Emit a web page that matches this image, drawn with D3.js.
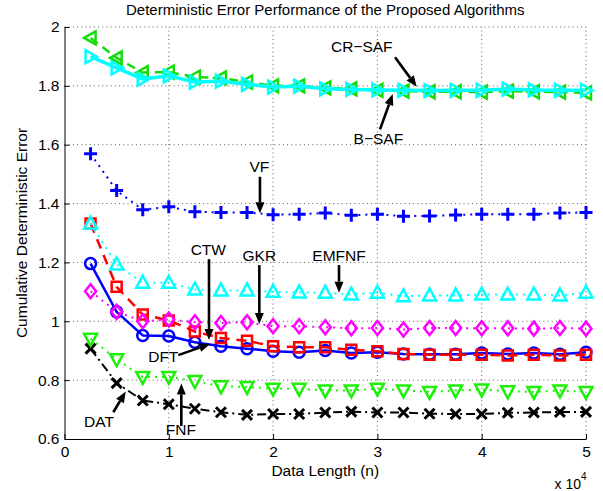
<!DOCTYPE html>
<html><head><meta charset="utf-8">
<script src="https://cdn.jsdelivr.net/npm/d3@7"></script>
<style>body{margin:0;background:#fff} text{font-family:"Liberation Sans",Arial,Helvetica,sans-serif}</style>
</head><body><svg id="c" width="603" height="491"></svg>
<script>
// ---------------- data ----------------
const dataLength = [2500,5000,7500,10000,12500,15000,17500,20000,22500,25000,27500,30000,32500,35000,37500,40000,42500,45000,47500,50000];
const crSaf = [1.963,1.895,1.845,1.847,1.830,1.827,1.813,1.800,1.800,1.793,1.790,1.785,1.782,1.780,1.780,1.779,1.782,1.780,1.779,1.776];
const bSaf  = [1.899,1.861,1.823,1.834,1.813,1.816,1.805,1.796,1.799,1.790,1.788,1.786,1.785,1.784,1.785,1.785,1.789,1.786,1.785,1.785];
const vf    = [1.569,1.444,1.379,1.389,1.372,1.370,1.370,1.362,1.364,1.368,1.360,1.364,1.357,1.358,1.361,1.364,1.364,1.364,1.368,1.370];
const emfnf = [1.332,1.193,1.131,1.131,1.108,1.105,1.105,1.100,1.098,1.097,1.091,1.097,1.085,1.088,1.088,1.091,1.091,1.091,1.088,1.097];
const gkr   = [1.102,1.032,1.000,1.006,0.997,0.994,0.997,0.983,0.983,0.980,0.976,0.977,0.972,0.977,0.977,0.976,0.976,0.975,0.977,0.975];
const ctw   = [1.332,1.117,1.023,1.003,0.965,0.943,0.934,0.915,0.912,0.912,0.903,0.898,0.889,0.886,0.886,0.886,0.884,0.886,0.884,0.886];
const dft   = [1.196,1.032,0.952,0.950,0.929,0.915,0.907,0.898,0.895,0.901,0.892,0.895,0.889,0.888,0.888,0.892,0.889,0.892,0.888,0.895];
const fnf   = [0.941,0.871,0.811,0.811,0.797,0.779,0.777,0.771,0.771,0.765,0.765,0.771,0.765,0.760,0.765,0.768,0.762,0.760,0.765,0.760];
const dat   = [0.907,0.790,0.731,0.718,0.703,0.691,0.682,0.685,0.685,0.690,0.693,0.690,0.690,0.686,0.685,0.685,0.689,0.690,0.692,0.692];

const xTicks = [0,10000,20000,30000,40000,50000];
const yTicks = [0.6,0.8,1.0,1.2,1.4,1.6,1.8,2.0];
const titleText = "Deterministic Error Performance of the Proposed Algorithms";
const xLabel = "Data Length (n)";
const yLabel = "Cumulative Deterministic Error";

// annotations: label, text position, arrow start, arrow end (data units)
const annoLabels = ["CR\u2212SAF","B\u2212SAF","VF","CTW","GKR","EMFNF","DFT","DAT","FNF"];
const annoText   = [[28500,1.933],[30090,1.622],[18680,1.525],[13790,1.245],[18680,1.225],[26320,1.225],[9470,0.882],[3310,0.661],[11160,0.633]];
const annoFrom   = [[31690,1.897],[30250,1.652],[18740,1.491],[13855,1.211],[18680,1.191],[26320,1.191],[10910,0.885],[4680,0.691],[11200,0.644]];
const annoTo     = [[33770,1.797],[31470,1.772],[18740,1.367],[13855,0.936],[18680,0.991],[26320,1.097],[13950,0.923],[5870,0.761],[11200,0.789]];

// ---------------- chart ----------------
const svg = d3.select("#c");
const L = 64.5, R = 586, T = 27, B = 439;
const x = d3.scaleLinear().domain([0,50000]).range([L,R]);
const y = d3.scaleLinear().domain([0.6,2.0]).range([B,T]);

// grid
const grid = svg.append("g").attr("stroke","#333").attr("stroke-width",0.8).attr("stroke-dasharray","1,3.2");
grid.selectAll("line.vx").data(xTicks.slice(1)).join("line")
  .attr("x1",d=>x(d)).attr("x2",d=>x(d)).attr("y1",B).attr("y2",T);
grid.selectAll("line.hy").data(yTicks.slice(1)).join("line")
  .attr("y1",d=>y(d)).attr("y2",d=>y(d)).attr("x1",L).attr("x2",R);

// axes
const fs = "15.5px";
const xa = svg.append("g").attr("transform",`translate(0,${B})`)
  .call(d3.axisBottom(x).tickValues(xTicks).tickSizeInner(-5).tickSizeOuter(0).tickPadding(7).tickFormat(d=>d/10000));
const ya = svg.append("g").attr("transform",`translate(${L},0)`)
  .call(d3.axisLeft(y).tickValues(yTicks).tickSizeInner(-5).tickSizeOuter(0).tickPadding(5).tickFormat(d3.format("~g")));
[xa,ya].forEach(a=>{
  a.select(".domain").attr("stroke","#000").attr("stroke-width",1);
  a.selectAll(".tick line").attr("stroke","#000");
  a.selectAll("text").attr("font-size",fs).attr("fill","#000").attr("font-family",'"Liberation Sans",Arial,sans-serif');
});

// marker shapes
const shapes = {
  triLeft:  "M-6.5,0L5,-6.5L5,6.5Z",
  triRight: "M6.5,0L-5,-6.5L-5,6.5Z",
  triUp:    "M0,-7L6.5,5L-6.5,5Z",
  triDown:  "M0,7L6.5,-5L-6.5,-5Z",
  plus:     "M-6.5,0H6.5M0,-6.5V6.5",
  cross:    "M-5,-5L5,5M-5,5L5,-5",
  diamond:  "M0,-7L5.5,0L0,7L-5.5,0Z",
  square:   "M-5,-5H5V5H-5Z"
};

const series = [
  {name:"DAT",   vals:dat,   color:"#000000", dash:"9,4,2,4", lw:2,   mk:"cross",   mw:3},
  {name:"FNF",   vals:fnf,   color:"#1ef00a", dash:"2,5",     lw:2,   mk:"triDown", mw:2.5},
  {name:"DFT",   vals:dft,   color:"#0000ff", dash:null,      lw:2.5, mk:"circle",  mw:2.5},
  {name:"CTW",   vals:ctw,   color:"#ff0000", dash:"10,7",    lw:2.5, mk:"square",  mw:2.5},
  {name:"GKR",   vals:gkr,   color:"#ff00ff", dash:"2,5",     lw:2,   mk:"diamond", mw:2.5},
  {name:"EMFNF", vals:emfnf, color:"#00ffff", dash:"2,5",     lw:2,   mk:"triUp",   mw:2.5},
  {name:"VF",    vals:vf,    color:"#0000ff", dash:"2,5",     lw:2,   mk:"plus",    mw:3},
  {name:"CR-SAF",vals:crSaf, color:"#14dc0a", dash:"9,6",     lw:2.5, mk:"triLeft", mw:2.5},
  {name:"B-SAF", vals:bSaf,  color:"#00ffff", dash:null,      lw:3.5, mk:"triRight",mw:2.5}
];

const line = d3.line().x(d=>x(d[0])).y(d=>y(d[1]));
series.forEach(s=>{
  const pts = dataLength.map((v,i)=>[v,s.vals[i]]);
  const g = svg.append("g");
  g.append("path").datum(pts).attr("d",line).attr("fill","none")
    .attr("stroke",s.color).attr("stroke-width",s.lw)
    .attr("stroke-dasharray",s.dash).attr("stroke-linejoin","round");
  if (s.mk==="circle") {
    g.selectAll("circle").data(pts).join("circle")
      .attr("cx",d=>x(d[0])).attr("cy",d=>y(d[1])).attr("r",5.5)
      .attr("fill","none").attr("stroke",s.color).attr("stroke-width",s.mw);
  } else {
    g.selectAll("path.m").data(pts).join("path").attr("class","m")
      .attr("transform",d=>`translate(${x(d[0])},${y(d[1])})`)
      .attr("d",shapes[s.mk]).attr("fill","none")
      .attr("stroke",s.color).attr("stroke-width",s.mw).attr("stroke-linejoin","miter");
  }
});

// annotations
const ann = svg.append("g");
annoLabels.forEach((lab,i)=>{
  ann.append("text").attr("x",x(annoText[i][0])).attr("y",y(annoText[i][1]))
    .attr("text-anchor","middle").attr("dominant-baseline","central")
    .attr("font-size",fs).attr("fill","#000").text(lab);
  const x1=x(annoFrom[i][0]), y1=y(annoFrom[i][1]), x2=x(annoTo[i][0]), y2=y(annoTo[i][1]);
  const ang = Math.atan2(y2-y1,x2-x1), hl=11, hw=4.5;
  const bx = x2-hl*Math.cos(ang), by = y2-hl*Math.sin(ang);
  ann.append("line").attr("x1",x1).attr("y1",y1).attr("x2",bx).attr("y2",by)
    .attr("stroke","#000").attr("stroke-width",2.6);
  const px=-Math.sin(ang), py=Math.cos(ang);
  ann.append("path").attr("d",`M${x2},${y2}L${bx+px*hw},${by+py*hw}L${bx-px*hw},${by-py*hw}Z`).attr("fill","#000");
});

// titles
svg.append("text").attr("x",(L+R)/2).attr("y",15).attr("text-anchor","middle")
  .attr("font-size","15px").attr("fill","#000").text(titleText);
svg.append("text").attr("x",(L+R)/2).attr("y",476).attr("text-anchor","middle")
  .attr("font-size",fs).attr("fill","#000").text(xLabel);
svg.append("text").attr("transform",`translate(27,${(T+B)/2}) rotate(-90)`).attr("text-anchor","middle")
  .attr("font-size",fs).attr("fill","#000").text(yLabel);
const ex = svg.append("text").attr("x",581).attr("y",489).attr("text-anchor","end").attr("font-size","14px").attr("fill","#000");
ex.append("tspan").text("x 10");
svg.append("text").attr("x",581).attr("y",480).attr("font-size","10px").attr("fill","#000").text("4");
</script></body></html>
